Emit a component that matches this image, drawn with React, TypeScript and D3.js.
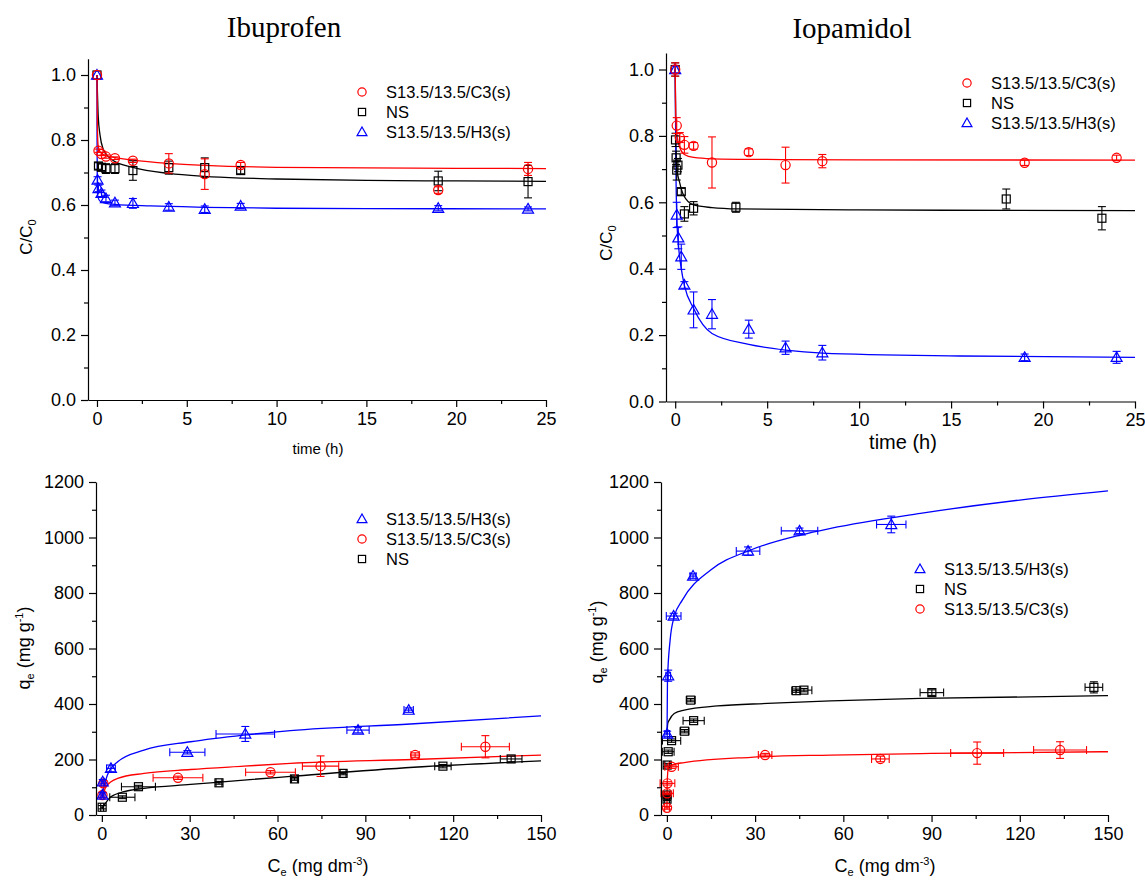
import React, { useEffect, useRef } from "react";
import * as d3 from "d3";

const RED = "#ff0000";
const BLUE = "#0000ff";
const BLACK = "#000000";
const SANS = "Arial, 'Liberation Sans', sans-serif";
const SERIF = "'Times New Roman', 'Liberation Serif', serif";

const LBL_C3 = "S13.5/13.5/C3(s)";
const LBL_NS = "NS";
const LBL_H3 = "S13.5/13.5/H3(s)";

const KIN_X_TICKS = [0, 5, 10, 15, 20, 25];
const KIN_X_MINOR = [2.5, 7.5, 12.5, 17.5, 22.5];
const KIN_Y_TICKS = [0, 0.2, 0.4, 0.6, 0.8, 1.0];
const KIN_Y_MINOR = [0.1, 0.3, 0.5, 0.7, 0.9];
const ISO_X_TICKS = [0, 30, 60, 90, 120, 150];
const ISO_X_MINOR = [15, 45, 75, 105, 135];
const ISO_Y_TICKS = [0, 200, 400, 600, 800, 1000, 1200];
const ISO_Y_MINOR = [100, 300, 500, 700, 900, 1100];

// Ibuprofen kinetics: [t (h), C/C0, err]
const ibuC3 = [[0, 1.0, 0], [0.083, 0.767, 0.005], [0.25, 0.757, 0.005], [0.5, 0.749, 0.005], [1, 0.744, 0.004], [2, 0.736, 0.005], [4, 0.728, 0.03], [6, 0.695, 0.047], [8, 0.723, 0.008], [19, 0.646, 0.01], [24, 0.711, 0.02]];
const ibuNS = [[0, 1.0, 0], [0.083, 0.72, 0.01], [0.25, 0.716, 0.01], [0.5, 0.712, 0.015], [1, 0.712, 0.015], [2, 0.706, 0.03], [4, 0.715, 0.02], [6, 0.715, 0.03], [8, 0.706, 0.01], [19, 0.674, 0.03], [24, 0.672, 0.05]];
const ibuH3 = [[0, 1.0, 0], [0.033, 0.677, 0.01], [0.083, 0.651, 0.01], [0.25, 0.636, 0.01], [0.5, 0.62, 0.01], [1, 0.607, 0.008], [2, 0.605, 0.015], [4, 0.594, 0.01], [6, 0.587, 0.01], [8, 0.597, 0.008], [19, 0.59, 0.008], [24, 0.588, 0.006]];
const ibuC3Fit = [[0, 1], [0.02, 0.85], [0.06, 0.785], [0.15, 0.765], [0.3, 0.757], [0.6, 0.75], [1, 0.746], [2, 0.738], [4, 0.728], [6, 0.722], [10, 0.716], [15, 0.714], [20, 0.713], [25, 0.712]];
const ibuNSFit = [[0, 1], [0.07, 0.872], [0.17, 0.815], [0.35, 0.771], [0.63, 0.749], [0.9, 0.737], [2, 0.716], [4, 0.697], [6, 0.688], [8, 0.683], [10, 0.68], [15, 0.676], [20, 0.674], [25, 0.673]];
const ibuH3Fit = [[0, 1], [0.005, 0.8], [0.02, 0.65], [0.05, 0.625], [0.2, 0.61], [0.5, 0.605], [1, 0.602], [3, 0.597], [6, 0.593], [10, 0.59], [15, 0.589], [25, 0.588]];

// Iopamidol kinetics
const iopC3 = [[0, 1.0, 0.02], [0.083, 0.831, 0.024], [0.25, 0.795, 0.015], [0.5, 0.773, 0.025], [1, 0.77, 0.01], [2, 0.72, 0.077], [4, 0.751, 0.01], [6, 0.712, 0.054], [8, 0.724, 0.02], [19, 0.719, 0.008], [24, 0.734, 0.008]];
const iopNS = [[0, 1.0, 0.02], [0.017, 0.788, 0.02], [0.05, 0.734, 0.02], [0.083, 0.697, 0.03], [0.15, 0.712, 0.02], [0.33, 0.632, 0.01], [0.5, 0.565, 0.022], [1, 0.582, 0.02], [3.3, 0.585, 0.015], [18, 0.61, 0.03], [23.2, 0.552, 0.035]];
const iopH3 = [[0, 1.0, 0.01], [0.083, 0.562, 0.038], [0.17, 0.493, 0.033], [0.33, 0.436, 0.038], [0.5, 0.351, 0.01], [1, 0.276, 0.054], [2, 0.263, 0.044], [4, 0.218, 0.027], [6, 0.162, 0.02], [8, 0.147, 0.022], [19, 0.133, 0.01], [24, 0.133, 0.018]];
const iopC3Fit = [[0, 1], [0.03, 0.86], [0.1, 0.8], [0.25, 0.765], [0.5, 0.744], [1, 0.735], [2, 0.731], [5, 0.729], [10, 0.728], [25, 0.727]];
const iopNSFit = [[0, 1], [0.03, 0.8], [0.09, 0.7], [0.23, 0.662], [0.45, 0.622], [1, 0.592], [2, 0.584], [3.4, 0.58], [10, 0.577], [25, 0.575]];
const iopH3Fit = [[0, 1], [0.04, 0.7], [0.09, 0.55], [0.18, 0.47], [0.33, 0.4], [0.5, 0.35], [1, 0.28], [2, 0.205], [4, 0.172], [6, 0.155], [8, 0.146], [15.5, 0.137], [25, 0.133]];

// Ibuprofen isotherms: [Ce, qe, xerr, yerr]
const isoIbuH3 = [[0.2, 72, 0.5, 8], [0.3, 120, 0.5, 8], [3.1, 168, 1.5, 12], [29.2, 226, 6, 6], [49, 292, 10, 27], [87.5, 306, 3.8, 10], [104.8, 378, 1.6, 8]];
const isoIbuC3 = [[0.2, 72, 0.5, 8], [0.5, 114, 0.8, 10], [26, 134, 8.5, 6], [57.6, 154, 8.5, 6], [74.7, 176, 6.2, 37], [107, 216, 1.4, 8], [131, 246, 8.2, 40]];
const isoIbuNS = [[0.1, 28, 0.5, 6], [7, 64, 4.3, 5], [12.5, 102, 5.8, 5], [40, 116, 1, 5], [65.8, 130, 1, 5], [82.4, 150, 1, 5], [116.5, 176, 2.8, 6], [139.8, 202, 3.7, 10]];
const isoIbuH3Fit = [[0.2, 80], [1.9, 144], [5.4, 192], [14.4, 234], [30.3, 264], [48.5, 288], [64.4, 304], [105.4, 328], [150, 357]];
const isoIbuC3Fit = [[0.2, 60], [1.4, 102], [5.4, 132], [14.4, 150], [30.3, 164], [48.5, 176], [64.4, 186], [106.5, 200], [150, 216]];
const isoIbuNSFit = [[0.1, 24], [3.1, 66], [7.6, 84], [14.4, 96], [30.3, 110], [48.5, 126], [64.4, 139], [106.5, 172], [150, 195]];

// Iopamidol isotherms
const isoIopH3 = [[0.1, 292, 0.8, 10], [0.45, 502, 0.8, 20], [2.3, 717, 2.5, 10], [8.9, 861, 1, 8], [27.6, 951, 4, 15], [45.1, 1024, 6.2, 10], [76.3, 1047, 5, 30]];
const isoIopNS = [[0.05, 57, 0.8, 5], [0.05, 72, 0.8, 5], [0.1, 180, 0.8, 6], [0.45, 228, 2, 6], [1.6, 268, 3.1, 6], [6, 302, 1.5, 6], [9.1, 340, 3.6, 6], [8.1, 414, 1.5, 6], [44, 448, 1.5, 6], [46.6, 450, 2.7, 6], [90.1, 441, 4, 10], [145.2, 460, 3, 20]];
const isoIopC3 = [[0.05, 26, 0.8, 5], [0.1, 78, 2.1, 5], [0.2, 114, 2.5, 6], [1.6, 174, 2.3, 6], [33.4, 216, 2.3, 6], [72.6, 202, 3, 10], [105.5, 223, 9, 40], [133.7, 234, 9, 30]];
const isoIopH3Fit = [[0.05, 290], [0.2, 486], [1.1, 630], [2.5, 715], [5.3, 775], [14.9, 883], [28.5, 955], [45.5, 1009], [55.7, 1033], [86.2, 1087], [120, 1135], [150, 1168]];
const isoIopNSFit = [[0.05, 290], [0.3, 330], [0.8, 342], [2.5, 366], [5.9, 378], [17.2, 393], [34.2, 402], [55.7, 411], [86.2, 420], [150, 430]];
const isoIopC3Fit = [[0.02, 30], [0.1, 115], [0.5, 170], [1.5, 180], [5.9, 189], [28.5, 208], [55.7, 216], [90, 222], [150, 228]];

function Marker({ shape, x, y, color, s = 1 }) {
  const sw = 1.2;
  if (shape === "circle")
    return <circle cx={x} cy={y} r={4.6 * s} fill="none" stroke={color} strokeWidth={sw} />;
  if (shape === "square")
    return <rect x={x - 4 * s} y={y - 4 * s} width={8 * s} height={8 * s} fill="none" stroke={color} strokeWidth={sw} />;
  const h = 5.5 * s;
  return <path d={`M${x},${y - h} L${x + h},${y + h * 0.75} L${x - h},${y + h * 0.75} Z`} fill="none" stroke={color} strokeWidth={sw} />;
}

function Panel({ xr, yr, xd, yd, xTicks, xMinor, yTicks, yMinor, yFmt, series, legend, legendX, legendY }) {
  const gx = useRef(null);
  const gy = useRef(null);
  const xs = d3.scaleLinear().domain(xd).range(xr);
  const ys = d3.scaleLinear().domain(yd).range(yr);

  useEffect(() => {
    const ax = d3.select(gx.current);
    ax.selectAll("*").remove();
    ax.append("g").call(d3.axisBottom(xs).tickValues(xTicks).tickSize(7).tickSizeOuter(0).tickPadding(5).tickFormat(d3.format("d")));
    ax.append("g").call(d3.axisBottom(xs).tickValues(xMinor).tickSize(4).tickFormat(() => ""))
      .call(g => g.select(".domain").remove());
    const ay = d3.select(gy.current);
    ay.selectAll("*").remove();
    ay.append("g").call(d3.axisLeft(ys).tickValues(yTicks).tickSize(7).tickSizeOuter(0).tickPadding(5).tickFormat(d3.format(yFmt)));
    ay.append("g").call(d3.axisLeft(ys).tickValues(yMinor).tickSize(4).tickFormat(() => ""))
      .call(g => g.select(".domain").remove());
    [ax, ay].forEach(a => {
      a.selectAll("g").attr("font-family", null).attr("font-size", null);
      a.selectAll("path, line").attr("stroke", BLACK).attr("stroke-width", 1.2);
      a.selectAll("text").attr("font-family", SANS).attr("font-size", 18).attr("fill", BLACK);
    });
  });

  const line = d3.line().x(d => xs(d[0])).y(d => ys(d[1])).curve(d3.curveMonotoneX);

  return (
    <g>
      {series.map((s, i) => (
        <path key={"f" + i} d={line(s.fit)} fill="none" stroke={s.color} strokeWidth={1.3} />
      ))}
      {series.map((s, i) => (
        <g key={"p" + i} stroke={s.color} strokeWidth={1.1} fill="none">
          {s.pts.map((p, j) => {
            const ex = p.length > 3 ? p[2] : 0;
            const ey = p.length > 3 ? p[3] : p[2];
            const cx = xs(p[0]);
            const cy = ys(p[1]);
            const ya = ys(p[1] + ey), yb = ys(p[1] - ey);
            const xa = xs(p[0] - ex), xb = xs(p[0] + ex);
            return (
              <g key={j}>
                {ey > 0 && (
                  <g>
                    <line x1={cx} x2={cx} y1={ya} y2={yb} />
                    <line x1={cx - 4} x2={cx + 4} y1={ya} y2={ya} />
                    <line x1={cx - 4} x2={cx + 4} y1={yb} y2={yb} />
                  </g>
                )}
                {ex > 0 && (
                  <g>
                    <line x1={xa} x2={xb} y1={cy} y2={cy} />
                    <line x1={xa} x2={xa} y1={cy - 4} y2={cy + 4} />
                    <line x1={xb} x2={xb} y1={cy - 4} y2={cy + 4} />
                  </g>
                )}
                <Marker shape={s.shape} x={cx} y={cy} color={s.color} />
              </g>
            );
          })}
        </g>
      ))}
      <g ref={gx} transform={`translate(0,${yr[0]})`} />
      <g ref={gy} transform={`translate(${xr[0]},0)`} />
      {legend.map((l, i) => (
        <g key={"l" + i}>
          <Marker shape={l.shape} x={legendX} y={legendY + i * 20} color={l.color} s={0.9} />
          <text x={legendX + 24} y={legendY + i * 20 + 6} fontFamily={SANS} fontSize={16.5} fill={BLACK}>{l.label}</text>
        </g>
      ))}
    </g>
  );
}

const C3 = { shape: "circle", color: RED, label: LBL_C3 };
const NS = { shape: "square", color: BLACK, label: LBL_NS };
const H3 = { shape: "triangle", color: BLUE, label: LBL_H3 };

export default function App() {
  return (
    <div style={{ position: "absolute", left: 0, top: 0 }}>
      <svg width={1145} height={881} viewBox="0 0 1145 881" style={{ display: "block", background: "#fff" }}>
        <rect width={1145} height={881} fill="#fff" />
        <text x={284} y={37} textAnchor="middle" fontFamily={SERIF} fontSize={29}>Ibuprofen</text>
        <text x={852} y={38} textAnchor="middle" fontFamily={SERIF} fontSize={29}>Iopamidol</text>

        <Panel xr={[88, 546]} yr={[400, 58.75]} xd={[-0.5, 25]} yd={[0, 1.05]}
          xTicks={KIN_X_TICKS} xMinor={KIN_X_MINOR} yTicks={KIN_Y_TICKS} yMinor={KIN_Y_MINOR} yFmt=".1f"
          series={[{ ...NS, pts: ibuNS, fit: ibuNSFit }, { ...H3, pts: ibuH3, fit: ibuH3Fit }, { ...C3, pts: ibuC3, fit: ibuC3Fit }]}
          legend={[C3, NS, H3]} legendX={362} legendY={92} />

        <Panel xr={[666, 1135]} yr={[401.5, 52.9]} xd={[-0.5, 25]} yd={[0, 1.05]}
          xTicks={KIN_X_TICKS} xMinor={KIN_X_MINOR} yTicks={KIN_Y_TICKS} yMinor={KIN_Y_MINOR} yFmt=".1f"
          series={[{ ...NS, pts: iopNS, fit: iopNSFit }, { ...H3, pts: iopH3, fit: iopH3Fit }, { ...C3, pts: iopC3, fit: iopC3Fit }]}
          legend={[C3, NS, H3]} legendX={967} legendY={83} />

        <Panel xr={[96, 541]} yr={[815, 482]} xd={[-2, 150]} yd={[0, 1200]}
          xTicks={ISO_X_TICKS} xMinor={ISO_X_MINOR} yTicks={ISO_Y_TICKS} yMinor={ISO_Y_MINOR} yFmt="d"
          series={[{ ...NS, pts: isoIbuNS, fit: isoIbuNSFit }, { ...C3, pts: isoIbuC3, fit: isoIbuC3Fit }, { ...H3, pts: isoIbuH3, fit: isoIbuH3Fit }]}
          legend={[H3, C3, NS]} legendX={362} legendY={519} />

        <Panel xr={[661, 1108]} yr={[815, 482]} xd={[-2, 150]} yd={[0, 1200]}
          xTicks={ISO_X_TICKS} xMinor={ISO_X_MINOR} yTicks={ISO_Y_TICKS} yMinor={ISO_Y_MINOR} yFmt="d"
          series={[{ ...NS, pts: isoIopNS, fit: isoIopNSFit }, { ...C3, pts: isoIopC3, fit: isoIopC3Fit }, { ...H3, pts: isoIopH3, fit: isoIopH3Fit }]}
          legend={[H3, NS, C3]} legendX={920} legendY={569} />

        {/* axis titles */}
        <text transform="translate(32,237) rotate(-90)" textAnchor="middle" fontFamily={SANS} fontSize={17}>
          C/C<tspan fontSize={11} dy={4}>0</tspan>
        </text>
        <text transform="translate(612,243) rotate(-90)" textAnchor="middle" fontFamily={SANS} fontSize={17}>
          C/C<tspan fontSize={11} dy={4}>0</tspan>
        </text>
        <text x={318} y={454} textAnchor="middle" fontFamily={SANS} fontSize={15}>time (h)</text>
        <text x={903} y={449} textAnchor="middle" fontFamily={SANS} fontSize={20}>time (h)</text>
        <text transform="translate(30,648) rotate(-90)" textAnchor="middle" fontFamily={SANS} fontSize={18}>
          q<tspan fontSize={11} dy={4}>e</tspan><tspan dy={-4}> (mg g</tspan><tspan fontSize={11} dy={-7}>-1</tspan><tspan dy={7}>)</tspan>
        </text>
        <text transform="translate(603,642) rotate(-90)" textAnchor="middle" fontFamily={SANS} fontSize={18}>
          q<tspan fontSize={11} dy={4}>e</tspan><tspan dy={-4}> (mg g</tspan><tspan fontSize={11} dy={-7}>-1</tspan><tspan dy={7}>)</tspan>
        </text>
        <text x={318} y={872} textAnchor="middle" fontFamily={SANS} fontSize={18}>
          C<tspan fontSize={11} dy={4}>e</tspan><tspan dy={-4}> (mg dm</tspan><tspan fontSize={11} dy={-7}>-3</tspan><tspan dy={7}>)</tspan>
        </text>
        <text x={885} y={872} textAnchor="middle" fontFamily={SANS} fontSize={18}>
          C<tspan fontSize={11} dy={4}>e</tspan><tspan dy={-4}> (mg dm</tspan><tspan fontSize={11} dy={-7}>-3</tspan><tspan dy={7}>)</tspan>
        </text>
      </svg>
    </div>
  );
}
